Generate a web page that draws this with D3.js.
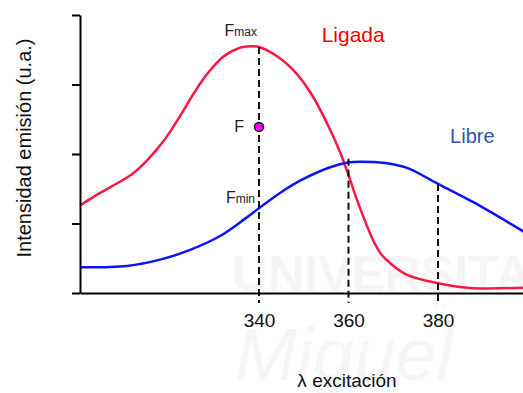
<!DOCTYPE html>
<html>
<head>
<meta charset="utf-8">
<script src="https://cdn.jsdelivr.net/npm/d3@7"></script>
<style>
  body { margin: 0; background: #fff; }
  svg { display: block; font-family: "Liberation Sans", Arial, sans-serif; }
</style>
</head>
<body>
<div class="chart"></div>
<script>
// wavelength (nm) and emission for the bound form
const ligadaX = [300, 304.5, 308.9, 311.8, 315.0, 317.2, 319.4, 322.3, 325.7, 328.4, 332.0, 335.8, 338, 340, 344.2, 348.5, 352.1, 355.9, 358.1, 360.1, 361.9, 365.5, 367.4, 369.3, 373.1, 380, 387.8, 400];
const ligadaY = [1.26, 1.44, 1.60, 1.72, 1.91, 2.07, 2.25, 2.54, 2.90, 3.15, 3.40, 3.53, 3.55, 3.54, 3.40, 3.15, 2.82, 2.35, 2.03, 1.68, 1.34, 0.76, 0.55, 0.43, 0.26, 0.14, 0.07, 0.08];
// free form
const libreX = [300, 310.5, 317.9, 324.6, 331.3, 336.9, 340, 344.7, 349.6, 355.9, 360.1, 362.6, 368.2, 373.1, 380, 387.8, 400];
const libreY = [0.37, 0.39, 0.48, 0.62, 0.82, 1.07, 1.22, 1.44, 1.63, 1.81, 1.88, 1.89, 1.87, 1.80, 1.57, 1.31, 0.85];
// dashed guides: wavelength and top value
const guideX = [340, 360, 380];
const guideTop = [3.54, 1.93, 1.57];
const xTicks = [340, 360, 380];
const yTicks = [0, 1, 2, 3, 4];
const pointF = { x: 340, y: 2.39 };

const W = 523, H = 393;

const svg = d3.select('.chart')
    .append('svg')
    .attr('width', W)
    .attr('height', H);

const x = d3.scaleLinear().domain([300, 400]).range([80, 527.5]);
const y = d3.scaleLinear().domain([0, 4]).range([293, 15]);

// faint watermark
svg.append('text')
    .attr('x', 232).attr('y', 291)
    .style('font-size', '50px').style('font-weight', 'bold')
    .attr('fill', '#f5f5f5')
    .text('UNIVERSITAS');
svg.append('text')
    .attr('x', 235).attr('y', 380)
    .style('font-size', '74px').style('font-style', 'italic')
    .attr('fill', '#f6f6f6')
    .text('Miguel');

// curves
const line = d3.line()
    .x(d => x(d[0]))
    .y(d => y(d[1]))
    .curve(d3.curveCatmullRom.alpha(0.5));

svg.append('path')
    .datum(ligadaX.map((v, i) => [v, ligadaY[i]]))
    .attr('d', line)
    .attr('fill', 'none')
    .attr('stroke', '#ff1744')
    .attr('stroke-width', 2.5);

svg.append('path')
    .datum(libreX.map((v, i) => [v, libreY[i]]))
    .attr('d', line)
    .attr('fill', 'none')
    .attr('stroke', '#0a14ff')
    .attr('stroke-width', 2.5);

// dashed guides
svg.selectAll('.guide')
    .data(guideX)
    .enter()
    .append('line')
    .attr('class', 'guide')
    .attr('x1', d => x(d))
    .attr('x2', d => x(d))
    .attr('y1', (d, i) => y(guideTop[i]))
    .attr('y2', y(0) + 10)
    .attr('stroke', '#111')
    .attr('stroke-width', 2)
    .attr('stroke-dasharray', '7,4');

// axes
const yAxis = svg.append('g')
    .attr('transform', `translate(${x(300)},0)`)
    .call(d3.axisLeft(y).tickValues(yTicks).tickSize(8).tickSizeOuter(0).tickFormat(''));
yAxis.selectAll('path, line').attr('stroke', '#000').attr('stroke-width', 2);

const xAxis = svg.append('g')
    .attr('transform', `translate(0,${y(0)})`)
    .call(d3.axisBottom(x).tickValues(xTicks).tickSize(0).tickSizeOuter(0).tickPadding(21));
xAxis.select('.domain').attr('stroke', '#000').attr('stroke-width', 2);
xAxis.selectAll('text')
    .style('font-family', '"Liberation Sans", Arial, sans-serif')
    .style('font-size', '19px')
    .attr('fill', '#111');

// point F
svg.append('circle')
    .attr('cx', x(pointF.x))
    .attr('cy', y(pointF.y))
    .attr('r', 4.5)
    .attr('fill', '#ff00ff')
    .attr('stroke', '#111')
    .attr('stroke-width', 1.5);

// annotations
function subLabel(px, py, main, sub) {
    const t = svg.append('text')
        .attr('x', px).attr('y', py)
        .attr('text-anchor', 'end')
        .attr('fill', '#222');
    t.append('tspan').style('font-size', '16px').text(main);
    if (sub) t.append('tspan').style('font-size', '12px').text(sub);
}
subLabel(x(340) - 2, 36, 'F', 'max');
subLabel(x(340) - 4, 203, 'F', 'min');
subLabel(x(340) - 15, y(pointF.y) + 5, 'F', '');

svg.append('text')
    .attr('x', x(354.0)).attr('y', 42)
    .style('font-size', '21px')
    .attr('fill', '#ff0000')
    .text('Ligada');

svg.append('text')
    .attr('x', x(382.7)).attr('y', 143)
    .style('font-size', '20px')
    .attr('fill', '#3352a8')
    .text('Libre');

// axis titles
svg.append('text')
    .attr('transform', 'translate(31,148) rotate(-90)')
    .attr('text-anchor', 'middle')
    .style('font-size', '20px')
    .attr('fill', '#111')
    .text('Intensidad emisión (u.a.)');

svg.append('text')
    .attr('x', 347).attr('y', 387)
    .attr('text-anchor', 'middle')
    .style('font-size', '19px')
    .attr('fill', '#111')
    .text('λ excitación');
</script>
</body>
</html>
